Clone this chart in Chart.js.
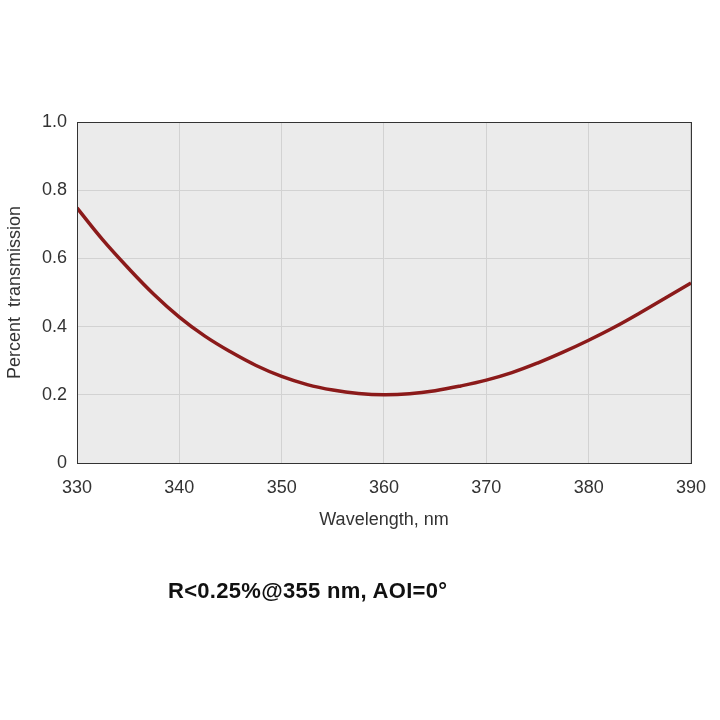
<!DOCTYPE html>
<html><head><meta charset="utf-8">
<script src="https://cdn.jsdelivr.net/npm/chart.js@4"></script>
<style>body{margin:0;background:#fff}#w{position:relative;width:720px;height:720px}
#cap{position:absolute;left:168px;top:578px;white-space:nowrap;font:bold 22px "Liberation Sans",Arial,sans-serif;color:#111;letter-spacing:0.3px}</style>
</head><body><div id="w"><canvas id="c" width="720" height="720"></canvas><div id="cap">R&lt;0.25%@355 nm, AOI=0°</div></div>
<script>
const wavelengths=[330,332.5,335,337.5,340,342.5,345,347.5,350,352.5,355,357.5,360,362.5,365,367.5,370,372.5,375,377.5,380,382.5,385,387.5,390];
const transmission=[0.748,0.655,0.572,0.495,0.428,0.372,0.326,0.286,0.254,0.230,0.214,0.204,0.200,0.203,0.212,0.226,0.243,0.265,0.293,0.325,0.36,0.398,0.44,0.484,0.528];
const xTicks=[330,340,350,360,370,380,390];
const bg={id:'bg',beforeDraw(ch){const a=ch.chartArea,x=ch.ctx;x.save();x.fillStyle='#ebebeb';x.fillRect(a.left,a.top,a.right-a.left,a.bottom-a.top);x.restore();},
afterDraw(ch){const a=ch.chartArea,x=ch.ctx;x.save();x.strokeStyle='#333';x.lineWidth=1;x.strokeRect(a.left+.5,a.top+.5,a.right-a.left,a.bottom-a.top);x.restore();}};
const font={family:'"Liberation Sans",Arial,sans-serif',size:18};
new Chart(document.getElementById('c'),{type:'line',
data:{datasets:[{data:wavelengths.map((w,i)=>({x:w,y:transmission[i]})),borderColor:'#8b1a1a',borderWidth:3.5,pointRadius:0,tension:0.4}]},
options:{responsive:false,animation:false,plugins:{legend:{display:false},tooltip:{enabled:false}},
layout:{padding:{left:0,right:23,top:122,bottom:185}},
scales:{x:{type:'linear',min:330,max:390,afterBuildTicks:s=>{s.ticks=xTicks.map(v=>({value:v}))},afterFit:s=>{s.height=72},
grid:{color:'#d2d2d2',drawTicks:false},border:{color:'#333'},ticks:{font,color:'#333',padding:14},
title:{display:true,text:'Wavelength, nm',font,color:'#333',padding:{top:0}}},
y:{min:0,max:1,afterFit:s=>{s.width=77},grid:{color:'#d2d2d2',drawTicks:false},border:{color:'#333'},
ticks:{stepSize:0.2,font,color:'#333',padding:10,callback:v=>v===0?'0':v.toFixed(1)},
title:{display:true,text:'Percent  transmission',font,color:'#333',padding:{bottom:0}}}}},plugins:[bg]});
</script></body></html>
